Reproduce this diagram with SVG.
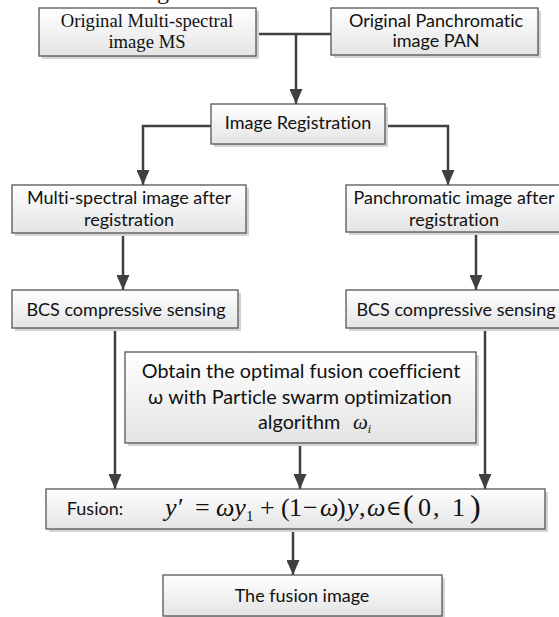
<svg xmlns="http://www.w3.org/2000/svg" width="559" height="617" viewBox="0 0 559 617">
<defs>
<linearGradient id="boxfill" x1="0" y1="0" x2="0" y2="1">
<stop offset="0" stop-color="#ffffff"/>
<stop offset="1" stop-color="#e4e4e4"/>
</linearGradient>
<marker id="arrow" markerUnits="userSpaceOnUse" markerWidth="15" markerHeight="13" refX="15" refY="6.5" orient="auto">
<path d="M0,0 L15,6.5 L0,13 Z" fill="#404040"/>
</marker>
</defs>
<style>
text{font-variant-ligatures:none;font-feature-settings:"liga" 0,"clig" 0;}
.shadow{fill:#d4d4d4;}
.box{fill:url(#boxfill);stroke:#555555;stroke-width:1.3;}
.lbl{font-family:Lato,"Liberation Sans",sans-serif;font-size:18px;fill:#111111;text-anchor:middle;}
.big{font-size:19.8px;}
.start{text-anchor:start;}
.serif{font-family:"Liberation Serif","Times New Roman",serif;font-size:18.67px;fill:#111111;text-anchor:middle;}
.eq{font-family:"Liberation Serif","Times New Roman",serif;font-size:26px;fill:#111111;}
.conn{fill:none;stroke:#404040;stroke-width:2.5;}
</style>
<rect width="559" height="617" fill="#ffffff"/>
<text x="157" y="-1" font-family="Liberation Serif, serif" font-size="24" fill="#111111">g</text>

<g id="connectors">
<path class="conn" d="M256,34 H331"/>
<path class="conn" d="M296,34 V104" marker-end="url(#arrow)"/>
<path class="conn" d="M211,126 H143 V185" marker-end="url(#arrow)"/>
<path class="conn" d="M385,126 H448 V185" marker-end="url(#arrow)"/>
<path class="conn" d="M123,233 V290" marker-end="url(#arrow)"/>
<path class="conn" d="M476,232 V290" marker-end="url(#arrow)"/>
<path class="conn" d="M115,328 V489" marker-end="url(#arrow)"/>
<path class="conn" d="M300,443 V489" marker-end="url(#arrow)"/>
<path class="conn" d="M485,328 V489" marker-end="url(#arrow)"/>
<path class="conn" d="M293,529 V575" marker-end="url(#arrow)"/>
</g>

<g id="ms">
<rect class="shadow" x="42" y="11" width="217" height="48"/>
<rect class="box" x="39" y="8" width="217" height="48"/>
<text class="serif" x="147" y="27">Original Multi-spectral</text>
<text class="serif" x="147" y="48">image MS</text>
</g>

<g id="pan">
<rect class="shadow" x="334" y="11" width="207" height="47"/>
<rect class="box" x="331" y="8" width="207" height="47"/>
<text class="lbl" x="436" y="27">Original Panchromatic</text>
<text class="lbl" x="436" y="47">image PAN</text>
</g>

<g id="registration">
<rect class="shadow" x="214" y="107" width="174" height="40"/>
<rect class="box" x="211" y="104" width="174" height="40"/>
<text class="lbl" x="298" y="129">Image Registration</text>
</g>

<g id="ms-reg">
<rect class="shadow" x="15" y="188" width="234" height="48"/>
<rect class="box" x="12" y="185" width="234" height="48"/>
<text class="lbl" x="129" y="204">Multi-spectral image after</text>
<text class="lbl" x="129" y="226">registration</text>
</g>

<g id="pan-reg">
<rect class="shadow" x="349" y="188" width="220" height="47"/>
<rect class="box" x="346" y="185" width="220" height="47"/>
<text class="lbl" x="454" y="204">Panchromatic image after</text>
<text class="lbl" x="454" y="226">registration</text>
</g>

<g id="bcs-ms">
<rect class="shadow" x="15" y="293" width="226" height="38"/>
<rect class="box" x="12" y="290" width="226" height="38"/>
<text class="lbl" x="126" y="316">BCS compressive sensing</text>
</g>

<g id="bcs-pan">
<rect class="shadow" x="349" y="293" width="220" height="38"/>
<rect class="box" x="346" y="290" width="220" height="38"/>
<text class="lbl" x="456" y="316">BCS compressive sensing</text>
</g>

<g id="pso">
<rect class="shadow" x="128" y="355" width="351" height="91"/>
<rect class="box" x="125" y="352" width="351" height="91"/>
<text class="lbl big" x="301" y="378">Obtain the optimal fusion coefficient</text>
<text class="lbl big" x="300" y="404">ω with Particle swarm optimization</text>
<text class="lbl big start" x="258" y="429">algorithm</text>
<text font-family="Liberation Serif, serif" font-size="21" font-style="italic" fill="#111111" x="353" y="429">ω<tspan font-size="12" dy="4">i</tspan></text>
</g>

<g id="fusion">
<rect class="shadow" x="49" y="492" width="499" height="40"/>
<rect class="box" x="46" y="489" width="499" height="40"/>
<text class="lbl" x="95" y="515">Fusion:</text>
<text class="eq" y="516"><tspan x="165" font-style="italic">y</tspan><tspan x="178">′</tspan><tspan x="195">=</tspan><tspan x="216" font-style="italic">ωy</tspan><tspan font-size="15" dy="5">1</tspan><tspan x="260" dy="-5">+</tspan><tspan x="281">(</tspan><tspan x="289">1</tspan><tspan x="303">−</tspan><tspan x="320" font-style="italic">ω</tspan><tspan x="337">)</tspan><tspan x="347" font-style="italic">y</tspan><tspan x="359">,</tspan><tspan x="367" font-style="italic">ω</tspan><tspan x="386" font-size="21" font-family="DejaVu Serif, serif" dy="-1">∈</tspan><tspan x="403" font-size="32" dy="2">(</tspan><tspan x="418" font-size="26" dy="-1">0</tspan><tspan x="433">,</tspan><tspan x="452">1</tspan><tspan x="470" font-size="32" dy="1">)</tspan></text>
</g>

<g id="output">
<rect class="shadow" x="166" y="578" width="279" height="41"/>
<rect class="box" x="163" y="575" width="279" height="41"/>
<text class="lbl" x="302" y="602">The fusion image</text>
</g>
</svg>
